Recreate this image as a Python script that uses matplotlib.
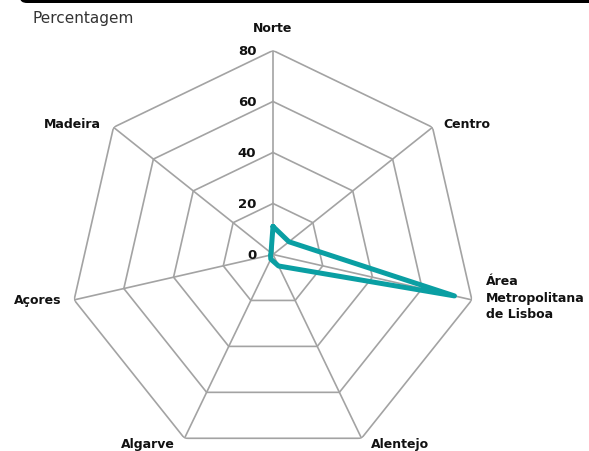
import numpy as np
import matplotlib.pyplot as plt
from matplotlib.patches import FancyBboxPatch

plt.rcParams['font.family'] = ['DejaVu Sans']

# Data
regions = ['Norte', 'Centro', 'Área\nMetropolitana\nde Lisboa', 'Alentejo',
           'Algarve', 'Açores', 'Madeira']
values = [11, 8, 73, 5, 2, 1, 1]
rings = [0, 20, 40, 60, 80]

n = len(regions)
angles = np.arange(n) * 2 * np.pi / n

fig = plt.figure(figsize=(5.89, 4.52), dpi=100)
ax = fig.add_axes([0.11715, -0.0166, 0.6927, 0.9027], projection='polar')
ax.set_theta_offset(np.pi / 2)
ax.set_theta_direction(-1)
ax.set_ylim(0, 80)
ax.grid(False)
ax.spines['polar'].set_visible(False)
ax.set_xticks([])
ax.set_yticks([])
ax.patch.set_alpha(0)

grid_col = '#a3a3a3'
closed = np.append(angles, angles[0])

# polygon grid
for r in rings[1:]:
    ax.plot(closed, [r] * (n + 1), color=grid_col, lw=1.2, zorder=1)
for a in angles:
    ax.plot([a, a], [0, 80], color=grid_col, lw=1.2, zorder=1)

# ring labels
for r in rings:
    ax.annotate(str(r), (0, r), xytext=(-12, 0), textcoords='offset points',
                ha='right', va='center', fontsize=9.5, fontweight='semibold',
                color='#111111')

# series
vals = np.append(values, values[0])
ax.plot(closed, vals, color='#0a9fa3', lw=3.6, solid_joinstyle='round',
        solid_capstyle='round', zorder=3, clip_on=False)

# category labels
offsets = [
    (0, 12, 'center', 'bottom'),
    (8, 3, 'left', 'center'),
    (10, 2, 'left', 'center'),
    (7, -4, 'left', 'center'),
    (-7, -4, 'right', 'center'),
    (-9, 0, 'right', 'center'),
    (-9, 3, 'right', 'center'),
]
for a, lab, (dx, dy, ha, va) in zip(angles, regions, offsets):
    ax.annotate(lab, (a, 80), xytext=(dx, dy), textcoords='offset points',
                ha=ha, va=va, fontsize=9, fontweight='semibold', color='#111111',
                linespacing=1.35, annotation_clip=False)

fig.text(32 / 589, 1 - 18 / 452, 'Percentagem', ha='left', va='center',
         fontsize=11, color='#333333')

# header bar at top
bar = FancyBboxPatch((20 / 589, 1 - 4 / 452), 1.1, 0.05,
                     boxstyle='round,pad=0,rounding_size=0.012',
                     transform=fig.transFigure, facecolor='black',
                     edgecolor='none', clip_on=False)
fig.patches.append(bar)

fig.savefig('out.png', dpi=100)
